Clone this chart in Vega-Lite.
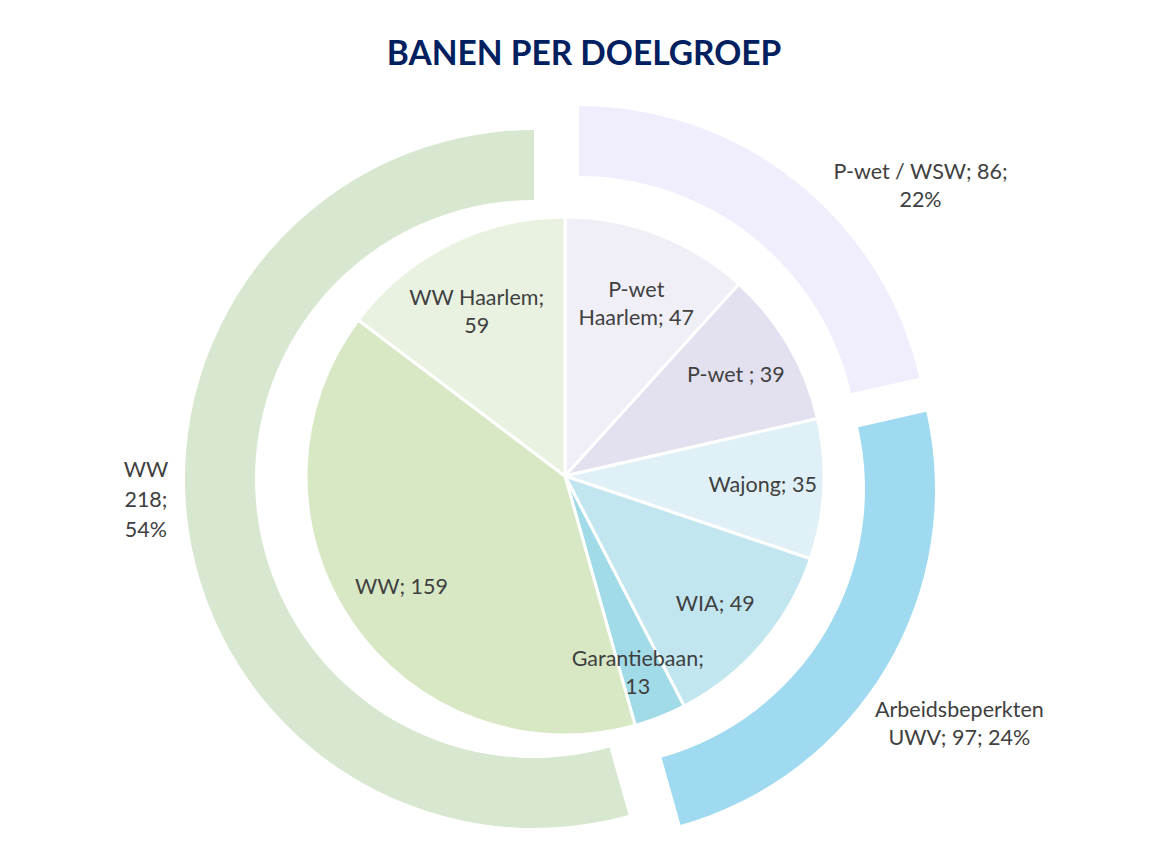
{
  "$schema": "https://vega.github.io/schema/vega-lite/v6.json",
  "autosize": "none",
  "width": 1130,
  "height": 772,
  "padding": {"left": 0, "top": 90, "right": 27, "bottom": 0},
  "background": "white",
  "title": {"text": "BANEN PER DOELGROEP", "font": "Lato", "fontSize": 33.5, "fontWeight": "bold", "color": "#002060", "anchor": "middle", "dx": 19, "dy": 19, "offset": -3, "baseline": "alphabetic"},
  "config": {"view": {"stroke": null}, "text": {"font": "Lato"}},
  "datasets": {
    "inner": [
      {"idx": 1, "cat": "P-wet Haarlem", "value": 47, "label": "P-wet\nHaarlem; 47"},
      {"idx": 2, "cat": "P-wet", "value": 39, "label": "P-wet ; 39"},
      {"idx": 3, "cat": "Wajong", "value": 35, "label": "Wajong; 35"},
      {"idx": 4, "cat": "WIA", "value": 49, "label": "WIA; 49"},
      {"idx": 5, "cat": "Garantiebaan", "value": 13, "label": "Garantiebaan;\n13"},
      {"idx": 6, "cat": "WW", "value": 159, "label": "WW; 159"},
      {"idx": 7, "cat": "WW Haarlem", "value": 59, "label": "WW Haarlem;\n59"}
    ],
    "outer": [
      {"idx": 1, "cat": "P-wet / WSW", "value": 86, "label": "P-wet / WSW; 86;\n22%"},
      {"idx": 2, "cat": "Arbeidsbeperkten UWV", "value": 97, "label": "Arbeidsbeperkten\nUWV; 97; 24%"},
      {"idx": 3, "cat": "WW totaal", "value": 218, "label": "WW\n218;\n54%"}
    ]
  },
  "layer": [
    {
      "data": {"name": "inner"},
      "mark": {"type": "arc", "outerRadius": 259, "stroke": "white", "strokeWidth": 3},
      "encoding": {
        "theta": {"field": "value", "type": "quantitative", "stack": true},
        "order": {"field": "idx", "type": "quantitative"},
        "color": {"field": "cat", "type": "nominal", "legend": null,
          "scale": {"domain": ["P-wet Haarlem", "P-wet", "Wajong", "WIA", "Garantiebaan", "WW", "WW Haarlem", "P-wet / WSW", "Arbeidsbeperkten UWV", "WW totaal"],
                    "range": ["#f0eff7", "#e3e1f0", "#dff1f7", "#c2e6f0", "#a2dbe8", "#d8e8c5", "#e9f2e0", "#f0eefd", "#9fdaf1", "#d8e7cf"]}}
      }
    },
    {
      "data": {"name": "inner"},
      "mark": {"type": "text", "radius": 198, "fontSize": 21.5, "color": "#404040", "lineBreak": "\n", "lineHeight": 28, "baseline": "middle", "align": "center"},
      "encoding": {
        "theta": {"field": "value", "type": "quantitative", "stack": true},
        "order": {"field": "idx", "type": "quantitative"},
        "text": {"field": "label"}
      }
    },
    {
      "data": {"name": "outer"},
      "mark": {"type": "arc", "innerRadius": 279, "outerRadius": 349, "xOffset": 14, "yOffset": -21},
      "encoding": {
        "theta": {"field": "value", "type": "quantitative", "stack": true},
        "order": {"field": "idx", "type": "quantitative"},
        "color": {"field": "cat", "type": "nominal", "legend": null,
          "scale": {"domain": ["P-wet Haarlem", "P-wet", "Wajong", "WIA", "Garantiebaan", "WW", "WW Haarlem", "P-wet / WSW", "Arbeidsbeperkten UWV", "WW totaal"],
                    "range": ["#f0eff7", "#e3e1f0", "#dff1f7", "#c2e6f0", "#a2dbe8", "#d8e8c5", "#e9f2e0", "#f0eefd", "#9fdaf1", "#d8e7cf"]}},
        "opacity": {"condition": {"test": "datum.cat === 'P-wet / WSW'", "value": 1}, "value": 0}
      }
    },
    {
      "data": {"name": "outer"},
      "mark": {"type": "arc", "innerRadius": 279, "outerRadius": 349, "xOffset": 21, "yOffset": 13},
      "encoding": {
        "theta": {"field": "value", "type": "quantitative", "stack": true},
        "order": {"field": "idx", "type": "quantitative"},
        "color": {"field": "cat", "type": "nominal", "legend": null,
          "scale": {"domain": ["P-wet Haarlem", "P-wet", "Wajong", "WIA", "Garantiebaan", "WW", "WW Haarlem", "P-wet / WSW", "Arbeidsbeperkten UWV", "WW totaal"],
                    "range": ["#f0eff7", "#e3e1f0", "#dff1f7", "#c2e6f0", "#a2dbe8", "#d8e8c5", "#e9f2e0", "#f0eefd", "#9fdaf1", "#d8e7cf"]}},
        "opacity": {"condition": {"test": "datum.cat === 'Arbeidsbeperkten UWV'", "value": 1}, "value": 0}
      }
    },
    {
      "data": {"name": "outer"},
      "mark": {"type": "arc", "innerRadius": 279, "outerRadius": 349, "xOffset": -31, "yOffset": 3},
      "encoding": {
        "theta": {"field": "value", "type": "quantitative", "stack": true},
        "order": {"field": "idx", "type": "quantitative"},
        "color": {"field": "cat", "type": "nominal", "legend": null,
          "scale": {"domain": ["P-wet Haarlem", "P-wet", "Wajong", "WIA", "Garantiebaan", "WW", "WW Haarlem", "P-wet / WSW", "Arbeidsbeperkten UWV", "WW totaal"],
                    "range": ["#f0eff7", "#e3e1f0", "#dff1f7", "#c2e6f0", "#a2dbe8", "#d8e8c5", "#e9f2e0", "#f0eefd", "#9fdaf1", "#d8e7cf"]}},
        "opacity": {"condition": {"test": "datum.cat === 'WW totaal'", "value": 1}, "value": 0}
      }
    },
    {
      "data": {"name": "outer"},
      "mark": {"type": "text", "radius": 448, "dx": 76, "dy": 47, "fontSize": 21.5, "color": "#404040", "lineBreak": "\n", "lineHeight": 28, "baseline": "middle", "align": "center"},
      "encoding": {
        "theta": {"field": "value", "type": "quantitative", "stack": true},
        "order": {"field": "idx", "type": "quantitative"},
        "text": {"field": "label"},
        "opacity": {"condition": {"test": "datum.cat === 'P-wet / WSW'", "value": 1}, "value": 0}
      }
    },
    {
      "data": {"name": "outer"},
      "mark": {"type": "text", "radius": 460, "dx": -1, "dy": 0, "fontSize": 21.5, "color": "#404040", "lineBreak": "\n", "lineHeight": 28, "baseline": "middle", "align": "center"},
      "encoding": {
        "theta": {"field": "value", "type": "quantitative", "stack": true},
        "order": {"field": "idx", "type": "quantitative"},
        "text": {"field": "label"},
        "opacity": {"condition": {"test": "datum.cat === 'Arbeidsbeperkten UWV'", "value": 1}, "value": 0}
      }
    },
    {
      "data": {"name": "outer"},
      "mark": {"type": "text", "radius": 418, "dx": -5, "dy": -62, "fontSize": 21.5, "color": "#404040", "lineBreak": "\n", "lineHeight": 30, "baseline": "middle", "align": "center"},
      "encoding": {
        "theta": {"field": "value", "type": "quantitative", "stack": true},
        "order": {"field": "idx", "type": "quantitative"},
        "text": {"field": "label"},
        "opacity": {"condition": {"test": "datum.cat === 'WW totaal'", "value": 1}, "value": 0}
      }
    }
  ]
}
